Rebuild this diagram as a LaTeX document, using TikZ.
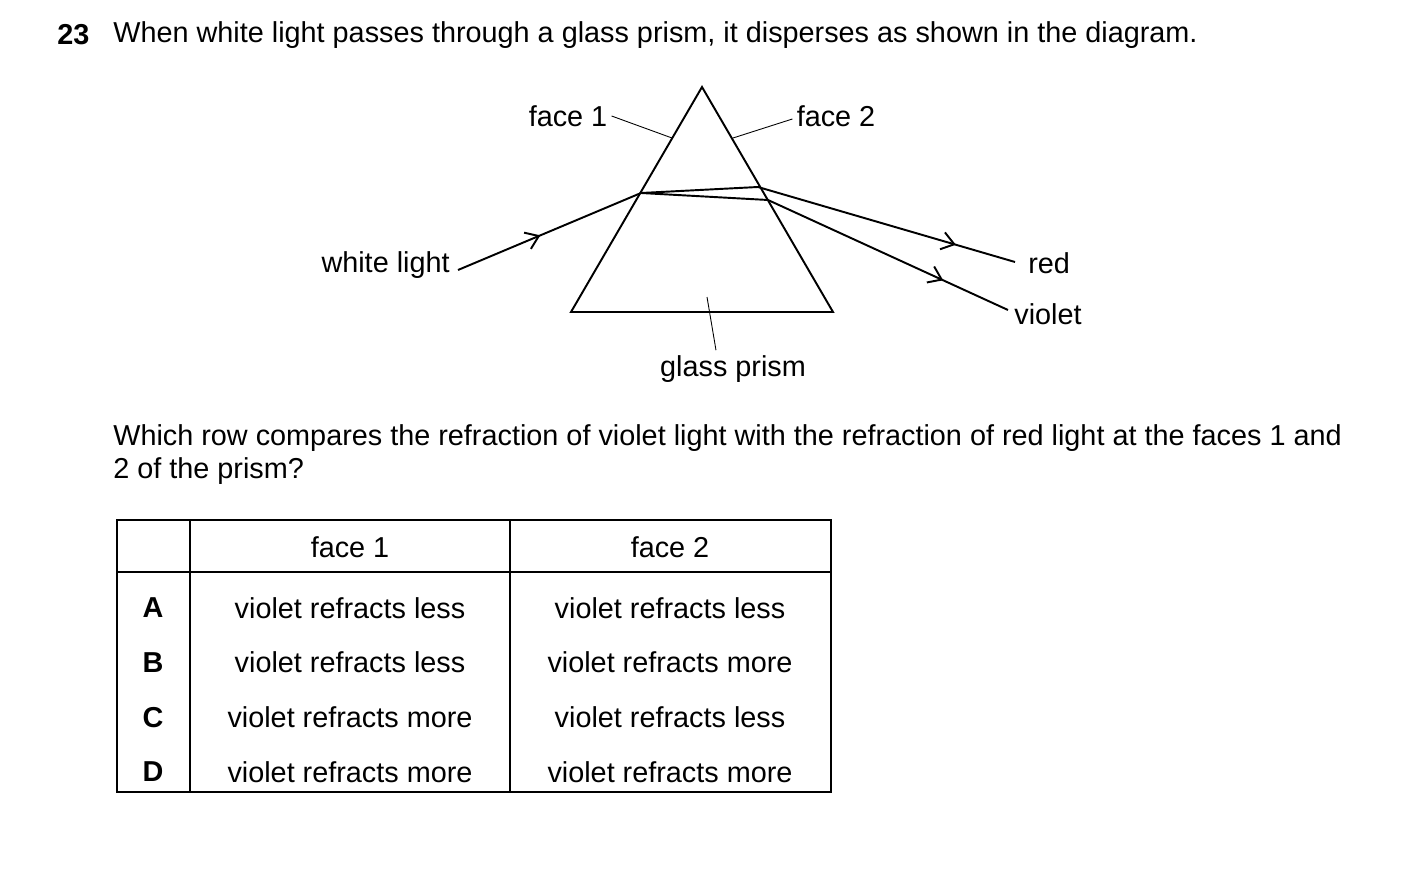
\documentclass[tikz,border=0pt]{standalone}
\usepackage{fontspec}
\setmainfont{Liberation Sans}
\usetikzlibrary{arrows.meta,decorations.markings}
\begin{document}
\begin{tikzpicture}[x=0.02cm,y=-0.02cm,
    txt/.style={inner sep=0pt,font=\fontsize{16.4}{19}\selectfont},
    ray/.style={line width=1.1pt,postaction={decorate}},
    lead/.style={line width=0.5pt},
    cell/.style={line width=0.6pt}]
        \useasboundingbox (0,0) rectangle (1403,885);
        % question
        \node[txt,anchor=west,font=\fontsize{16.4}{19}\selectfont\bfseries] (qn) at (57,35) {23};
        \node[txt,anchor=west] (q) at (113,35) {When white light passes through a glass prism, it disperses as shown in the diagram.};

        % prism
        \coordinate (apex) at (702,87);
        \coordinate (bl) at (571,312);
        \coordinate (br) at (833,312);
        \draw [line width=1.1pt, line join=miter] (apex) -- (bl) -- (br) -- cycle;

        % rays
        \coordinate (in) at (458,270);
        \coordinate (p1) at (641,193);
        \coordinate (pr) at (758,187);
        \coordinate (pv) at (768,200);
        \coordinate (rend) at (1015,262);
        \coordinate (vend) at (1008,310);
        \draw [ray, decoration={markings, mark=at position 0.45 with {\arrow{Straight Barb[length=7pt,width=10pt]}}}] (in) -- (p1);
        \draw [line width=1.1pt] (p1) -- (pr);
        \draw [line width=1.1pt] (p1) -- (pv);
        \draw [ray, decoration={markings, mark=at position 0.77 with {\arrow{Straight Barb[length=7pt,width=10pt]}}}] (pr) -- (rend);
        \draw [ray, decoration={markings, mark=at position 0.73 with {\arrow{Straight Barb[length=7pt,width=10pt]}}}] (pv) -- (vend);

        % labels
        \node[txt,anchor=east] (white) at (450,265) {white light};
        \node[txt,anchor=west] (red) at (1028,263) {red};
        \node[txt,anchor=west] (violet) at (1014,314) {violet};
        \node[txt] (face1) at (568,116) {face 1};
        \node[txt] (face2) at (836,116) {face 2};
        \node[txt] (glass) at (733,369) {glass prism};
        \draw [lead] (face1.east) ++(4,0) -- (672,138);
        \draw [lead] (face2.west) ++(-4,3) -- (733,138);
        \draw [lead] (glass.north) ++(-17,-5) -- (707,297);

        % second question
        \node[txt,anchor=west] (q2a) at (113,438) {Which row compares the refraction of violet light with the refraction of red light at the faces 1 and};
        \node[txt,anchor=west] (q2b) at (113,471) {2 of the prism?};

        % table
        \draw [cell] (117,520) rectangle (831,792);
        \draw [cell] (117,572) -- (831,572);
        \draw [cell] (190,520) -- (190,792);
        \draw [cell] (510,520) -- (510,792);
        \node[txt] (h1) at (350,547) {face 1};
        \node[txt] (h2) at (670,547) {face 2};
        \foreach \lt/\fa/\fb [count=\i] in {A/less/less,B/less/more,C/more/less,D/more/more} {
            \node[txt,font=\fontsize{16.4}{19}\selectfont\bfseries] (l\i) at (153,553+54.7*\i) {\lt};
            \node[txt] (a\i) at (350,553+54.7*\i) {violet refracts \fa};
            \node[txt] (b\i) at (670,553+54.7*\i) {violet refracts \fb};
        }
\end{tikzpicture}
\end{document}
